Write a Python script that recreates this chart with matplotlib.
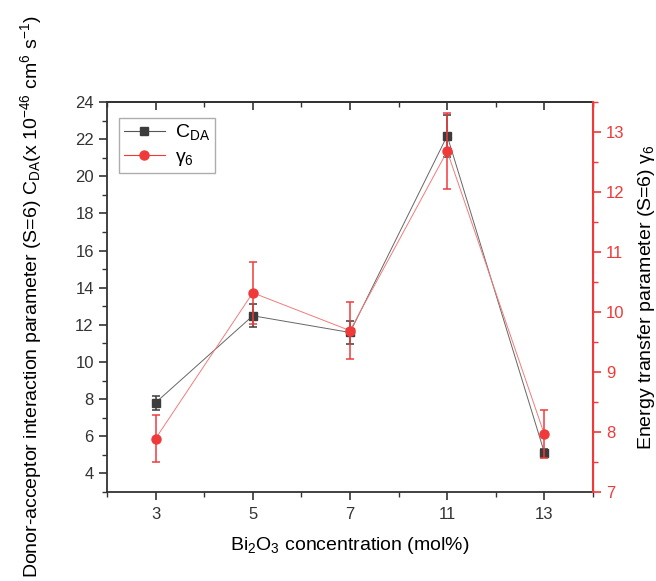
import matplotlib
matplotlib.use("Agg")
import matplotlib.pyplot as plt
from matplotlib.ticker import MultipleLocator, FixedLocator
from matplotlib.lines import Line2D

plt.rcParams['font.family'] = ['Liberation Sans', 'DejaVu Sans']
plt.rcParams['mathtext.fontset'] = 'custom'
plt.rcParams['mathtext.rm'] = 'Liberation Sans'
plt.rcParams['mathtext.it'] = 'Liberation Sans'

conc_labels = ["3", "5", "7", "11", "13"]
cda = [7.81, 12.49, 11.59, 22.18, 5.12]
cda_err = [0.38, 0.61, 0.60, 1.14, 0.20]
gamma6 = [7.89, 10.32, 9.69, 12.68, 7.96]
gamma6_err = [0.39, 0.52, 0.48, 0.63, 0.40]

pos = list(range(1, len(conc_labels) + 1))
red = '#f03a3a'
dark = '#3c3c3c'
tickc = '#333333'

fig = plt.figure(figsize=(6.56, 5.81), dpi=100)
ax = fig.add_axes([107/656, 1-492/581, (593-107)/656, (492-102)/581])
ax2 = ax.twinx()

ax.plot(pos, cda, color='#666666', lw=0.7, zorder=2)
ax.errorbar(pos, cda, yerr=cda_err, fmt='s', color=dark, ms=5.5, ecolor=dark,
            elinewidth=1.1, capsize=3, capthick=1.1, zorder=3)
ax2.plot(pos, gamma6, color='#f27b7b', lw=0.7, zorder=2)
ax2.errorbar(pos, gamma6, yerr=gamma6_err, fmt='o', color=red, ms=6.5, ecolor=red,
             elinewidth=1.1, capsize=3, capthick=1.1, zorder=3)

ax.set_xlim(0.5, 5.5)
ax.set_ylim(3, 24)
ax2.set_ylim(7, 13.5)
ax.set_xticks(pos)
ax.set_xticklabels(conc_labels)
minor_x = [0.5 + i for i in range(6)]
ax.xaxis.set_minor_locator(FixedLocator(minor_x))
ax.set_yticks([4, 6, 8, 10, 12, 14, 16, 18, 20, 22, 24])
ax.yaxis.set_minor_locator(MultipleLocator(1))
ax2.yaxis.set_major_locator(MultipleLocator(1))
ax2.yaxis.set_minor_locator(MultipleLocator(0.5))

ax.tick_params(axis='x', which='both', direction='out', top=False, labelsize=12,
               color=tickc, labelcolor=tickc, pad=5)
ax.tick_params(axis='x', which='major', length=6, width=1.2)
ax.tick_params(axis='x', which='minor', length=3.5, width=1.0)
ax.tick_params(axis='y', which='both', direction='out', labelsize=12, left=True, right=False,
               color=tickc, labelcolor=tickc)
ax.tick_params(axis='y', which='major', length=6, width=1.2)
ax.tick_params(axis='y', which='minor', length=3.5, width=1.0)
ax2.tick_params(axis='y', which='both', direction='out', colors=red, labelsize=12)
ax2.tick_params(axis='y', which='major', length=6, width=1.2)
ax2.tick_params(axis='y', which='minor', length=3.5, width=1.0)

# top axis ticks pointing inward
topx = ax.secondary_xaxis('top')
topx.set_xticks(pos)
topx.xaxis.set_minor_locator(FixedLocator(minor_x))
topx.tick_params(axis='x', which='both', direction='in', labeltop=False, color=tickc)
topx.tick_params(axis='x', which='major', length=6, width=1.2)
topx.tick_params(axis='x', which='minor', length=3.5, width=1.0)
topx.spines['top'].set_linewidth(1.3)
topx.spines['top'].set_color(tickc)

for s in ['left', 'top', 'bottom']:
    ax.spines[s].set_linewidth(1.3)
    ax.spines[s].set_color(tickc)
ax2.spines['right'].set_color(red)
ax2.spines['right'].set_linewidth(1.5)
for s in ['left', 'top', 'bottom']:
    ax2.spines[s].set_visible(False)

ax.set_xlabel('Bi$_2$O$_3$ concentration (mol%)', fontsize=14, labelpad=9)
ax.set_ylabel('Donor-acceptor interaction parameter (S=6) C$_{DA}$(x 10$^{-46}$ cm$^6$ s$^{-1}$)',
              fontsize=14, labelpad=22)
ax2.set_ylabel('Energy transfer parameter (S=6) $\\gamma_6$', fontsize=14, labelpad=8)

handles = [Line2D([0], [0], color='#555555', lw=0.8, marker='s', ms=5.5, mfc=dark, mec=dark),
           Line2D([0], [0], color=red, lw=0.8, marker='o', ms=6.5, mfc=red, mec=red)]
leg = ax.legend(handles, ['C$_{DA}$', '$\\gamma_6$'], loc='upper left',
                bbox_to_anchor=(0.025, 0.96), fontsize=14, frameon=True, fancybox=False,
                edgecolor='#999999', handlelength=2.1, handletextpad=0.5, borderpad=0.25,
                labelspacing=0.3, borderaxespad=0)
leg.get_frame().set_linewidth(1.0)

fig.savefig('out.png', dpi=100)
